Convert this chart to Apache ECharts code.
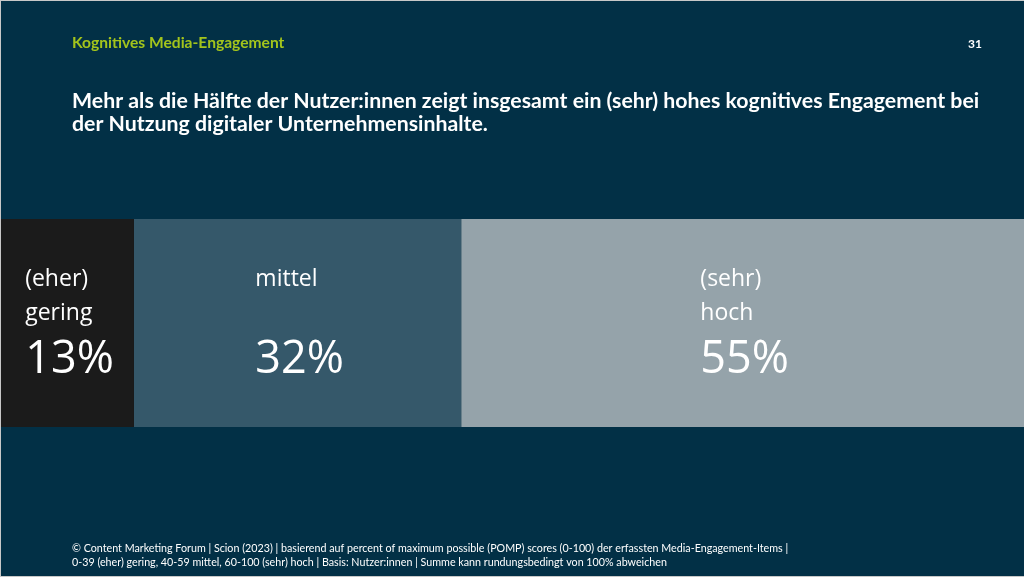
<!DOCTYPE html>
<html>
<head>
<meta charset="utf-8">
<title>Kognitives Media-Engagement</title>
<script src="https://cdn.jsdelivr.net/npm/echarts@6/dist/echarts.min.js"></script>
<style>
  html, body { margin: 0; padding: 0; background: #ffffff; }
  #wrap { width: 1024px; height: 577px; box-sizing: border-box;
          border-top: 1px solid #c8c8c8; border-left: 1px solid #c8c8c8; border-bottom: 1px solid #c8c8c8; }
  #chart { width: 1023px; height: 575px; }
</style>
</head>
<body>
<div id="wrap"><div id="chart"></div></div>
<script>
// Kategorien und Anteile (in %)
var categories = ['(eher)\ngering', 'mittel', '(sehr)\nhoch'];
var shares = [13, 32, 55];
var colors = ['#1b1b1b', '#35586a', '#95a3aa'];

var kicker = 'Kognitives Media-Engagement';
var pageNo = '31';
var headline = 'Mehr als die Hälfte der Nutzer:innen zeigt insgesamt ein (sehr) hohes kognitives Engagement bei\nder Nutzung digitaler Unternehmensinhalte.';
var source = '© Content Marketing Forum | Scion (2023) | basierend auf percent of maximum possible (POMP) scores (0-100) der erfassten Media-Engagement-Items |\n0-39 (eher) gering, 40-59 mittel, 60-100 (sehr) hoch | Basis: Nutzer:innen | Summe kann rundungsbedingt von 100% abweichen';

var myChart = echarts.init(document.getElementById('chart'));

var series = categories.map(function (name, i) {
  var lines = name.split('\n');
  if (lines.length < 2) lines.push(' ');
  return {
    name: name,
    type: 'bar',
    stack: 'total',
    barWidth: '100%',
    data: [shares[i]],
    itemStyle: { color: colors[i] },
    label: {
      show: true,
      position: 'inside',
      align: 'center',
      verticalAlign: 'middle',
      offset: [2, 3],
      formatter: '{a|' + lines[0] + '}\n{a|' + lines[1] + '}\n{b|' + shares[i] + '%}',
      rich: {
        a: { color: '#ffffff', fontFamily: 'Open Sans', fontSize: 23, lineHeight: 34, align: 'left' },
        b: { color: '#ffffff', fontFamily: 'Open Sans', fontSize: 45, lineHeight: 60, align: 'left' }
      }
    }
  };
});

var option = {
  backgroundColor: '#023046',
  animation: false,
  title: [
    { text: kicker, left: 71, top: 34, padding: 0,
      textStyle: { color: '#a3c41c', fontFamily: 'Lato', fontWeight: 'bold', fontSize: 15.6 } },
    { text: pageNo, right: 42, top: 37, padding: 0,
      textStyle: { color: '#ffffff', fontFamily: 'Lato', fontWeight: 'bold', fontSize: 12 } },
    { text: headline, left: 71, top: 89, padding: 0,
      textStyle: { color: '#ffffff', fontFamily: 'Lato', fontWeight: 'bold', fontSize: 21.3, lineHeight: 23 } },
    { text: source, left: 71, top: 541, padding: 0,
      textStyle: { color: '#ffffff', fontFamily: 'Lato', fontWeight: 'normal', fontSize: 10.72, lineHeight: 14 } }
  ],
  grid: { left: 0, right: 0, top: 218, height: 208 },
  xAxis: { type: 'value', min: 0, max: 100, show: false },
  yAxis: { type: 'category', data: ['Engagement'], show: false },
  series: series
};

myChart.setOption(option);
</script>
</body>
</html>
